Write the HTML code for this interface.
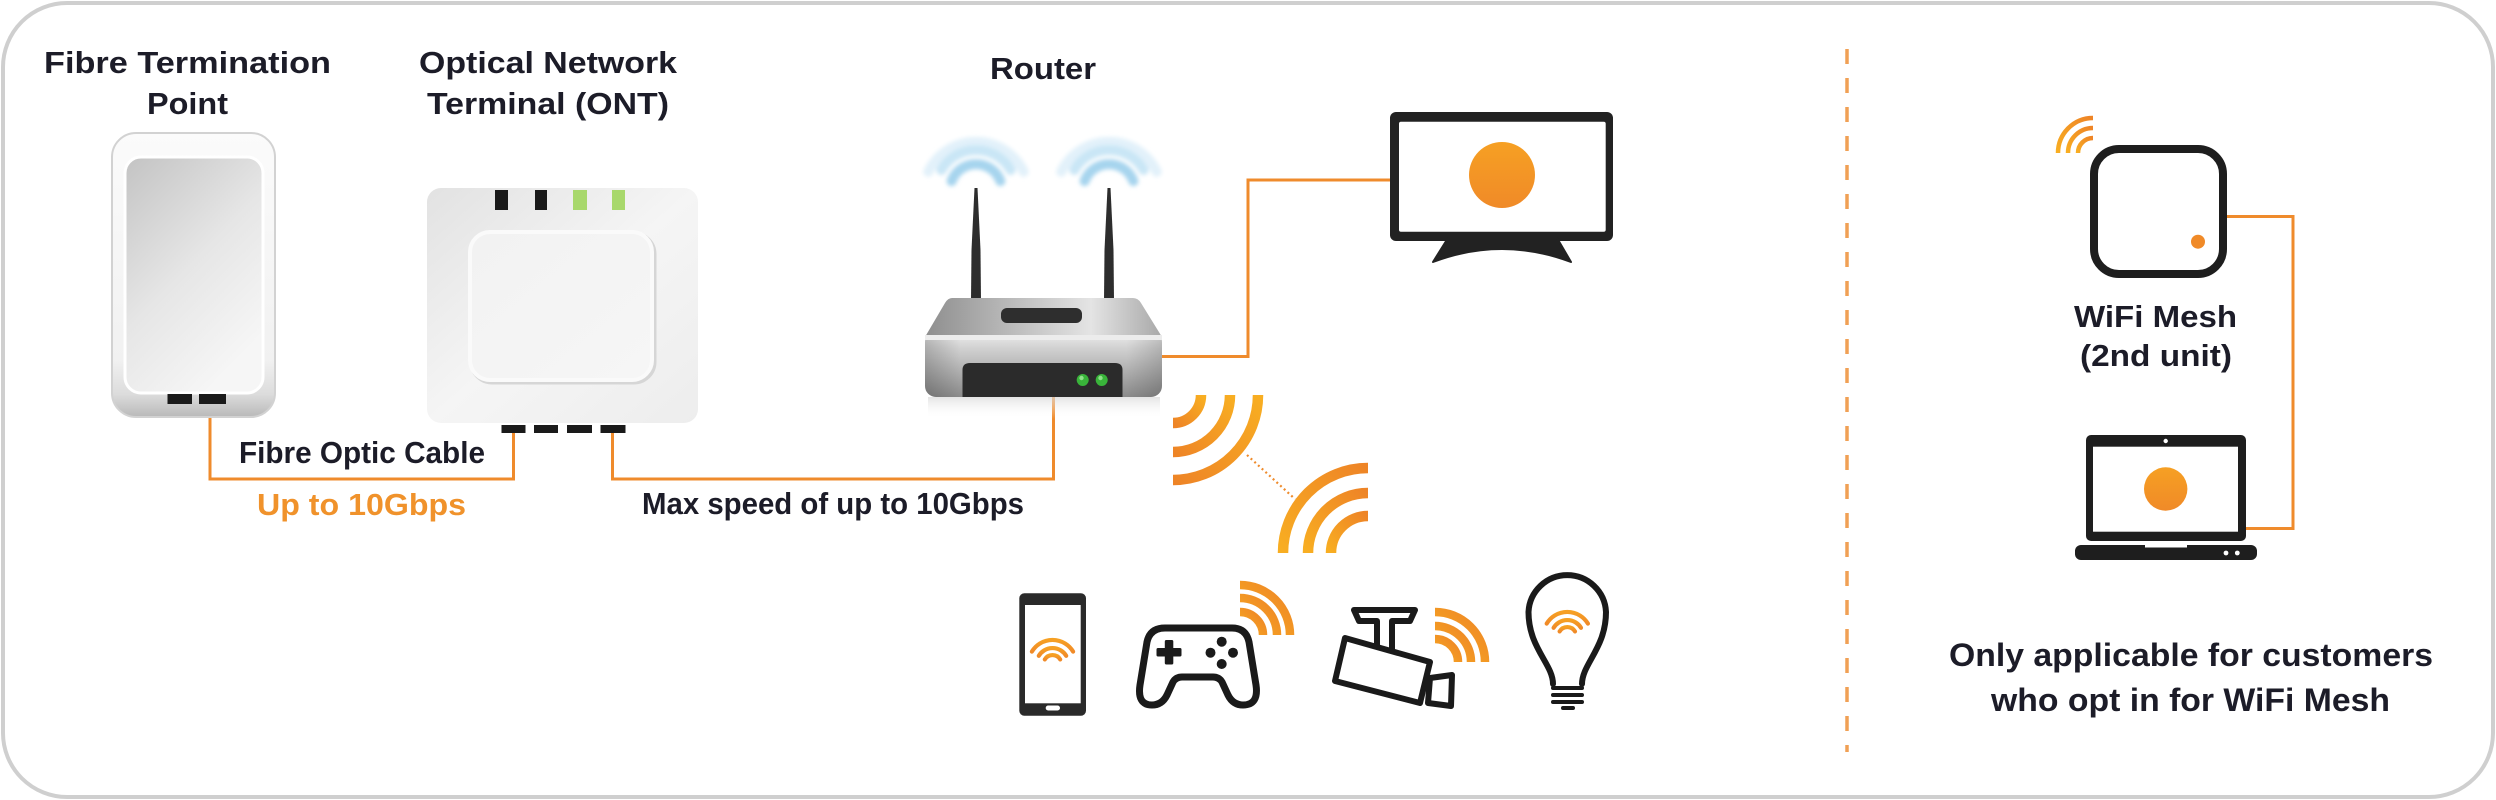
<!DOCTYPE html>
<html>
<head>
<meta charset="utf-8">
<style>
  html,body{margin:0;padding:0;background:#fff;}
  svg{display:block;}
  text{font-family:"Liberation Sans", Arial, sans-serif;font-weight:bold;}
</style>
</head>
<body>
<svg width="2496" height="800" viewBox="0 0 2496 800" xmlns="http://www.w3.org/2000/svg">
  <defs>
    <linearGradient id="ftpOuter" x1="0" y1="0" x2="0" y2="1">
      <stop offset="0" stop-color="#fbfbfb"/>
      <stop offset="0.8" stop-color="#f1f1f1"/>
      <stop offset="0.92" stop-color="#dcdcdc"/>
      <stop offset="1" stop-color="#b9b9b9"/>
    </linearGradient>
    <linearGradient id="ftpInner" x1="0" y1="0" x2="0.6" y2="1">
      <stop offset="0" stop-color="#c3c3c3"/>
      <stop offset="0.55" stop-color="#e6e6e6"/>
      <stop offset="1" stop-color="#f6f6f6"/>
    </linearGradient>
    <linearGradient id="ontFill" x1="0" y1="0" x2="1" y2="1">
      <stop offset="0" stop-color="#e2e2e2"/>
      <stop offset="0.5" stop-color="#f5f5f5"/>
      <stop offset="1" stop-color="#ededed"/>
    </linearGradient>
    <linearGradient id="ontInner" x1="0" y1="0" x2="1" y2="1">
      <stop offset="0" stop-color="#f2f2f2"/>
      <stop offset="1" stop-color="#f6f6f6"/>
    </linearGradient>
    <linearGradient id="rTop" x1="0" y1="0" x2="1" y2="0">
      <stop offset="0" stop-color="#8e8e8e"/>
      <stop offset="0.7" stop-color="#e4e4e4"/>
      <stop offset="1" stop-color="#a8a8a8"/>
    </linearGradient>
    <linearGradient id="rFront" x1="0" y1="0" x2="0" y2="1">
      <stop offset="0" stop-color="#f0f0f0"/>
      <stop offset="0.25" stop-color="#d2d2d2"/>
      <stop offset="1" stop-color="#8a8a8a"/>
    </linearGradient>
    <linearGradient id="rShine" x1="0" y1="0" x2="1" y2="0">
      <stop offset="0" stop-color="#000" stop-opacity="0.18"/>
      <stop offset="0.15" stop-color="#000" stop-opacity="0"/>
      <stop offset="0.85" stop-color="#000" stop-opacity="0"/>
      <stop offset="1" stop-color="#000" stop-opacity="0.15"/>
    </linearGradient>
    <linearGradient id="refl" x1="0" y1="0" x2="0" y2="1">
      <stop offset="0" stop-color="#d8d8d8" stop-opacity="0.7"/>
      <stop offset="1" stop-color="#ffffff" stop-opacity="0"/>
    </linearGradient>
    <linearGradient id="og" x1="0" y1="1" x2="1" y2="0">
      <stop offset="0" stop-color="#ee8426"/>
      <stop offset="1" stop-color="#f8ae22"/>
    </linearGradient>
    <linearGradient id="og2" x1="1" y1="0" x2="0" y2="1">
      <stop offset="0" stop-color="#ee8426"/>
      <stop offset="1" stop-color="#f8ae22"/>
    </linearGradient>
    <linearGradient id="ogc" x1="0" y1="0" x2="0" y2="1">
      <stop offset="0" stop-color="#f6a023"/>
      <stop offset="1" stop-color="#f08a28"/>
    </linearGradient>
    <filter id="blur" x="-30%" y="-30%" width="160%" height="160%">
      <feGaussianBlur stdDeviation="2.2"/>
    </filter>
  </defs>

  <!-- outer frame -->
  <rect x="3" y="3" width="2490" height="794" rx="64" ry="64" fill="#ffffff" stroke="#cfcfcf" stroke-width="4"/>

  <!-- ===== Titles ===== -->
  <g fill="#1c1c28" font-size="31">
    <text x="44" y="73" textLength="287" lengthAdjust="spacingAndGlyphs">Fibre Termination</text>
    <text x="147" y="114" textLength="81" lengthAdjust="spacingAndGlyphs">Point</text>
    <text x="419" y="73" textLength="258" lengthAdjust="spacingAndGlyphs">Optical Network</text>
    <text x="427" y="114" textLength="242" lengthAdjust="spacingAndGlyphs">Terminal (ONT)</text>
    <text x="990" y="79" textLength="106" lengthAdjust="spacingAndGlyphs">Router</text>
    <text x="239" y="463" textLength="246" lengthAdjust="spacingAndGlyphs">Fibre Optic Cable</text>
    <text x="642" y="514" textLength="382" lengthAdjust="spacingAndGlyphs">Max speed of up to 10Gbps</text>
    <text x="2074" y="327" textLength="163" lengthAdjust="spacingAndGlyphs">WiFi Mesh</text>
    <text x="2080" y="366" textLength="152" lengthAdjust="spacingAndGlyphs">(2nd unit)</text>
    <text x="1949" y="666" font-size="32" textLength="484" lengthAdjust="spacingAndGlyphs">Only applicable for customers</text>
    <text x="1991" y="711" font-size="32" textLength="399" lengthAdjust="spacingAndGlyphs">who opt in for WiFi Mesh</text>
  </g>
  <text x="257" y="515" font-size="31" fill="#f0922b" textLength="209" lengthAdjust="spacingAndGlyphs">Up to 10Gbps</text>

  <!-- ===== Connector lines ===== -->
  <g fill="none" stroke="#ef8b2c" stroke-width="3">
    <polyline points="210,417 210,479 513.5,479 513.5,433"/>
    <polyline points="612.5,433 612.5,479 1053.5,479 1053.5,397"/>
    <polyline points="1162,356.5 1248,356.5 1248,180 1391,180"/>
    <polyline points="2226,216.5 2293,216.5 2293,528.5 2245,528.5"/>
  </g>

  <!-- ===== FTP device ===== -->
  <rect x="112" y="133" width="163" height="284" rx="24" fill="url(#ftpOuter)" stroke="#d2d2d2" stroke-width="2"/>
  <rect x="125" y="157" width="138" height="236" rx="16" fill="url(#ftpInner)" stroke="#ffffff" stroke-width="3"/>
  <rect x="167.5" y="394" width="24.5" height="10" fill="#1a1a1a"/>
  <rect x="199" y="394" width="27" height="10" fill="#1a1a1a"/>

  <!-- ===== ONT ===== -->
  <rect x="427" y="188" width="271" height="235" rx="14" fill="url(#ontFill)"/>
  <rect x="472" y="234" width="182" height="148" rx="20" fill="none" stroke="#d6d6d6" stroke-width="5"/>
  <rect x="470" y="232" width="182" height="148" rx="20" fill="url(#ontInner)" stroke="#fafafa" stroke-width="4"/>
  <rect x="495" y="190" width="13" height="20" fill="#1a1a1a"/>
  <rect x="535" y="190" width="12" height="20" fill="#1a1a1a"/>
  <rect x="573" y="190" width="14" height="20" fill="#a8d86c"/>
  <rect x="612" y="190" width="13" height="20" fill="#a8d86c"/>
  <rect x="501.5" y="425" width="24" height="8" fill="#1a1a1a"/>
  <rect x="534" y="425" width="24" height="8" fill="#1a1a1a"/>
  <rect x="567" y="425" width="25" height="8" fill="#1a1a1a"/>
  <rect x="600.5" y="425" width="25" height="8" fill="#1a1a1a"/>

  <!-- ===== Router ===== -->
  <g filter="url(#blur)" fill="none" stroke-linecap="round">
    <path d="M 928.3,171.8 A 53 53 0 0 1 1023.7,171.8" stroke="#e2f1fa" stroke-width="10"/>
    <path d="M 941.4,170 A 40 40 0 0 1 1010.6,170" stroke="#c9e6f6" stroke-width="10"/>
    <path d="M 951.6,181.1 A 26 26 0 0 1 1000.4,181.1" stroke="#a6d4ee" stroke-width="10"/>
    <path d="M 1061.3,171.8 A 53 53 0 0 1 1156.7,171.8" stroke="#e2f1fa" stroke-width="10"/>
    <path d="M 1074.4,170 A 40 40 0 0 1 1143.6,170" stroke="#c9e6f6" stroke-width="10"/>
    <path d="M 1084.6,181.1 A 26 26 0 0 1 1133.4,181.1" stroke="#a6d4ee" stroke-width="10"/>
  </g>
  <polygon points="974.5,188 977.5,188 980.5,250 981,300 971,300 971.5,250" fill="#2d2d2d"/>
  <polygon points="1107.5,188 1110.5,188 1113.5,250 1114,300 1104,300 1104.5,250" fill="#2d2d2d"/>
  <rect x="928" y="397" width="232" height="22" fill="url(#refl)"/>
  <rect x="925" y="331" width="237" height="66" rx="11" fill="url(#rFront)"/>
  <rect x="925" y="331" width="237" height="66" rx="11" fill="url(#rShine)"/>
  <path d="M 952,298 L 1133,298 Q 1138,298 1141,303 L 1162,337 L 925,337 L 945,303 Q 948,298 952,298 Z" fill="url(#rTop)"/>
  <rect x="925" y="335" width="237" height="5" fill="#ececec"/>
  <rect x="1001" y="308" width="81" height="15" rx="6" fill="#2e2e2e"/>
  <path d="M 962.5,397 L 962.5,370 Q 962.5,363 970,363 L 1115,363 Q 1122.5,363 1122.5,370 L 1122.5,397 Z" fill="#2b2b2b"/>
  <circle cx="1082.7" cy="380" r="6" fill="#39b43a"/>
  <circle cx="1101.7" cy="380" r="6" fill="#39b43a"/>
  <circle cx="1081.5" cy="378" r="2.2" fill="#8fe08a"/>
  <circle cx="1100.5" cy="378" r="2.2" fill="#8fe08a"/>

  <!-- ===== router wifi orange groups ===== -->
  <g fill="none" stroke="url(#og)" stroke-width="10.5">
    <path d="M 1201,395 A 28 28 0 0 1 1173,423"/>
    <path d="M 1230,395 A 57 57 0 0 1 1173,452"/>
    <path d="M 1258,395 A 85 85 0 0 1 1173,480"/>
  </g>
  <g fill="none" stroke="url(#og2)" stroke-width="10.5">
    <path d="M 1331,553 A 37 37 0 0 1 1368,516"/>
    <path d="M 1308,553 A 60 60 0 0 1 1368,493"/>
    <path d="M 1283,553 A 85 85 0 0 1 1368,468"/>
  </g>
  <line x1="1247" y1="455" x2="1295" y2="499" stroke="#ef8b2c" stroke-width="2.2" stroke-dasharray="2 3"/>

  <!-- ===== TV ===== -->
  <rect x="1390" y="112" width="223" height="129" rx="6" fill="#222222"/>
  <rect x="1399" y="121.7" width="206.7" height="110" rx="2" fill="#ffffff"/>
  <circle cx="1502" cy="175" r="33" fill="url(#ogc)"/>
  <path d="M 1448,238 L 1557,238 L 1571,262 Q 1502,236 1433,262 Z" fill="#222222" stroke="#222222" stroke-width="2" stroke-linejoin="round"/>

  <!-- ===== Phone ===== -->
  <rect x="1019.3" y="593.3" width="66.7" height="122.4" rx="5" fill="#2a2a2a"/>
  <rect x="1025" y="605" width="55.7" height="98.3" fill="#ffffff"/>
  <rect x="1045.7" y="705.5" width="14.3" height="5" rx="2.5" fill="#ffffff"/>
  <g fill="none" stroke="url(#ogc)" stroke-width="4.2" stroke-linecap="round">
    <path d="M 1031.9,651.6 A 24 24 0 0 1 1073.1,651.6"/>
    <path d="M 1038.8,655.8 A 16 16 0 0 1 1066.2,655.8"/>
    <path d="M 1044.8,659.4 A 9 9 0 0 1 1060.2,659.4"/>
  </g>

  <!-- ===== Gamepad ===== -->
  <path d="M 1165,628 L 1232,628 Q 1246,628 1249,642 L 1256,685 Q 1259,705 1243,705 Q 1233,705 1228,695 L 1222,682 Q 1219,677 1213,677 L 1182,677 Q 1176,677 1173,682 L 1167,695 Q 1162,705 1152,705 Q 1137,705 1140,685 L 1147,642 Q 1150,628 1165,628 Z" fill="none" stroke="#1a1a1a" stroke-width="7" stroke-linejoin="round"/>
  <rect x="1156.5" y="648" width="25" height="8.5" rx="1.5" fill="#1a1a1a"/>
  <rect x="1164.8" y="640" width="8.5" height="24.5" rx="1.5" fill="#1a1a1a"/>
  <circle cx="1221.7" cy="641.7" r="5" fill="#1a1a1a"/>
  <circle cx="1221.7" cy="664" r="5" fill="#1a1a1a"/>
  <circle cx="1210.5" cy="652.7" r="5" fill="#1a1a1a"/>
  <circle cx="1233" cy="652.7" r="5" fill="#1a1a1a"/>
  <g fill="none" stroke="url(#og2)" stroke-width="8.5">
    <path d="M 1240,612 A 23 23 0 0 1 1263,635"/>
    <path d="M 1240,598 A 37 37 0 0 1 1277,635"/>
    <path d="M 1240,585 A 50 50 0 0 1 1290,635"/>
  </g>

  <!-- ===== Camera ===== -->
  <g fill="#ffffff" stroke="#1a1a1a" stroke-width="6" stroke-linejoin="round">
    <path d="M 1354,610 L 1415,610 L 1410,621 L 1392,621 L 1392,665 L 1377,665 L 1377,621 L 1359,621 Z"/>
    <path d="M 1430,678 L 1452,675 L 1451,706 L 1428,703 Z"/>
    <path d="M 1345,638 L 1430,662 L 1420,703 L 1335,681 Z"/>
  </g>
  <g fill="none" stroke="url(#og2)" stroke-width="8.5">
    <path d="M 1435,639 A 23 23 0 0 1 1458,662"/>
    <path d="M 1435,626 A 36 36 0 0 1 1471,662"/>
    <path d="M 1435,612 A 50 50 0 0 1 1485,662"/>
  </g>

  <!-- ===== Bulb ===== -->
  <path d="M 1553,684 C 1553,664 1528.5,648 1528.5,612 A 38.8 38.8 0 0 1 1606,612 C 1606,648 1582,664 1582,684" fill="none" stroke="#1a1a1a" stroke-width="6" stroke-linecap="round"/>
  <g stroke="#1a1a1a" stroke-width="4" stroke-linecap="round">
    <line x1="1553" y1="688" x2="1582" y2="688"/>
    <line x1="1553" y1="695" x2="1582" y2="695"/>
    <line x1="1553" y1="702" x2="1582" y2="702"/>
    <line x1="1563" y1="708" x2="1573" y2="708"/>
  </g>
  <g fill="none" stroke="url(#ogc)" stroke-width="4.2" stroke-linecap="round">
    <path d="M 1546.7,623.6 A 24 24 0 0 1 1587.9,623.6"/>
    <path d="M 1553.6,627.8 A 16 16 0 0 1 1581,627.8"/>
    <path d="M 1559.6,631.4 A 9 9 0 0 1 1575,631.4"/>
  </g>

  <!-- ===== Divider ===== -->
  <line x1="1847" y1="49" x2="1847" y2="752" stroke="#f0a055" stroke-width="3.5" stroke-dasharray="15 14"/>

  <!-- ===== Mesh unit ===== -->
  <rect x="2094" y="149" width="129" height="125" rx="25" fill="#ffffff" stroke="#1e1e1e" stroke-width="8"/>
  <circle cx="2198" cy="241.7" r="7" fill="#f08a28"/>
  <g fill="none" stroke="url(#og2)" stroke-width="4.5">
    <path d="M 2078,153 A 15 15 0 0 1 2093,138"/>
    <path d="M 2068,153 A 25 25 0 0 1 2093,128"/>
    <path d="M 2058,153 A 35 35 0 0 1 2093,118"/>
  </g>

  <!-- ===== Laptop ===== -->
  <rect x="2086" y="435" width="160" height="106" rx="5" fill="#1e1e1e"/>
  <rect x="2093" y="446.7" width="145" height="85" fill="#ffffff"/>
  <circle cx="2165.7" cy="441" r="2.2" fill="#ffffff"/>
  <circle cx="2165.7" cy="489" r="21.7" fill="url(#ogc)"/>
  <rect x="2075" y="545" width="182" height="15" rx="6" fill="#1e1e1e"/>
  <rect x="2145" y="545" width="42" height="2.5" fill="#ffffff"/>
  <circle cx="2226" cy="553" r="2.4" fill="#ffffff"/>
  <circle cx="2237.3" cy="553" r="2.4" fill="#ffffff"/>
</svg>
</body>
</html>
